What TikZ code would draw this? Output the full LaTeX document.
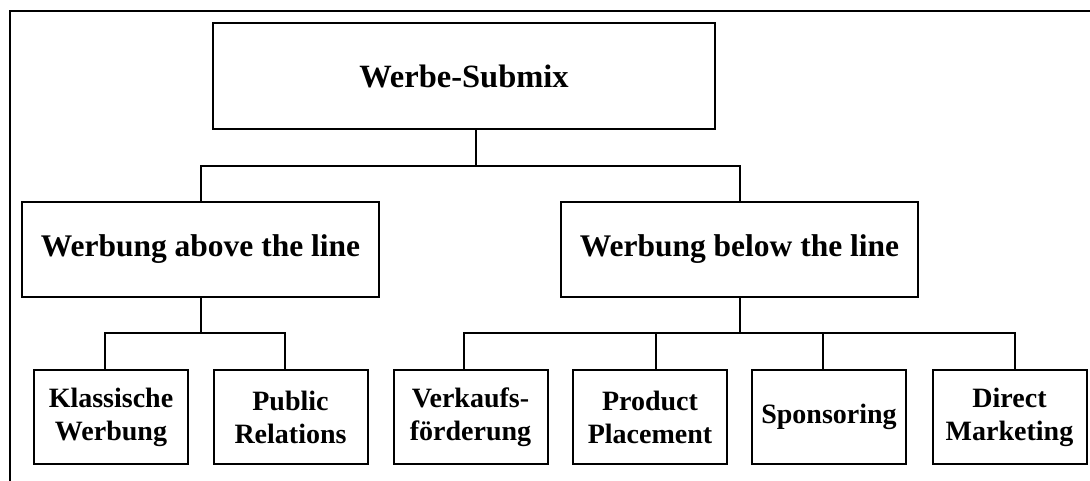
\documentclass[tikz,border=0pt]{standalone}
\usepackage{fontspec}
\setmainfont{Liberation Serif}
\begin{document}
\begin{tikzpicture}[x=1pt,y=-1pt,
  line width=2pt,
  bigbox/.style={draw, line width=2pt, inner sep=0pt, align=center,
    font=\bfseries\fontsize{31.5}{36}\selectfont},
  smallbox/.style={draw, line width=2pt, inner sep=0pt, align=center,
    minimum width=154pt, minimum height=94pt,
    font=\bfseries\fontsize{28}{33}\selectfont},
  conn/.style={line width=2pt}]
\useasboundingbox (0,0) rectangle (1090,480);
% outer frame (only top and left visible)
\draw[line width=2pt] (10,482) -- (10,11) -- (1092,11);

\node[bigbox, minimum width=502pt, minimum height=106pt, font=\bfseries\fontsize{32.5}{36}\selectfont] (top) at (464,76) {Werbe-Submix};
\node[bigbox, minimum width=357pt, minimum height=95pt] (above) at (200.5,249.5) {Werbung above the line};
\node[bigbox, minimum width=357pt, minimum height=95pt] (below) at (739.5,249.5) {Werbung below the line};

\node[smallbox] (klass) at (111,417) {Klassische\\Werbung};
\node[smallbox] (pr) at (290.5,417) {Public\\Relations};
\node[smallbox] (vk) at (470.5,417) {Verkaufs-\\förderung};
\node[smallbox] (pp) at (650,417) {Product\\Placement};
\node[smallbox] (sp) at (829,417) {Sponsoring};
\node[smallbox] (dm) at (1009.5,417) {Direct\\Marketing};

\coordinate (bar1) at (476,166);
\coordinate (bar2) at (200,333);
\coordinate (bar3) at (739.5,333);

\draw[conn] (top.south -| bar1) -- (bar1);
\draw[conn] (above.north) -- (above.north |- bar1) -- (below.north |- bar1) -- (below.north);

\draw[conn] (above.south) -- (above.south |- bar2);
\draw[conn] ([xshift=-6pt]klass.north) -- ([xshift=-6pt]klass.north |- bar2) -- ([xshift=-5.5pt]pr.north |- bar2) -- ([xshift=-5.5pt]pr.north);

\draw[conn] (below.south) -- (below.south |- bar3);
\draw[conn] ([xshift=-6.5pt]vk.north) -- ([xshift=-6.5pt]vk.north |- bar3) -- ([xshift=5.5pt]dm.north |- bar3) -- ([xshift=5.5pt]dm.north);
\draw[conn] ([xshift=6pt]pp.north) -- ([xshift=6pt]pp.north |- bar3);
\draw[conn] ([xshift=-6pt]sp.north) -- ([xshift=-6pt]sp.north |- bar3);
\end{tikzpicture}
\end{document}
